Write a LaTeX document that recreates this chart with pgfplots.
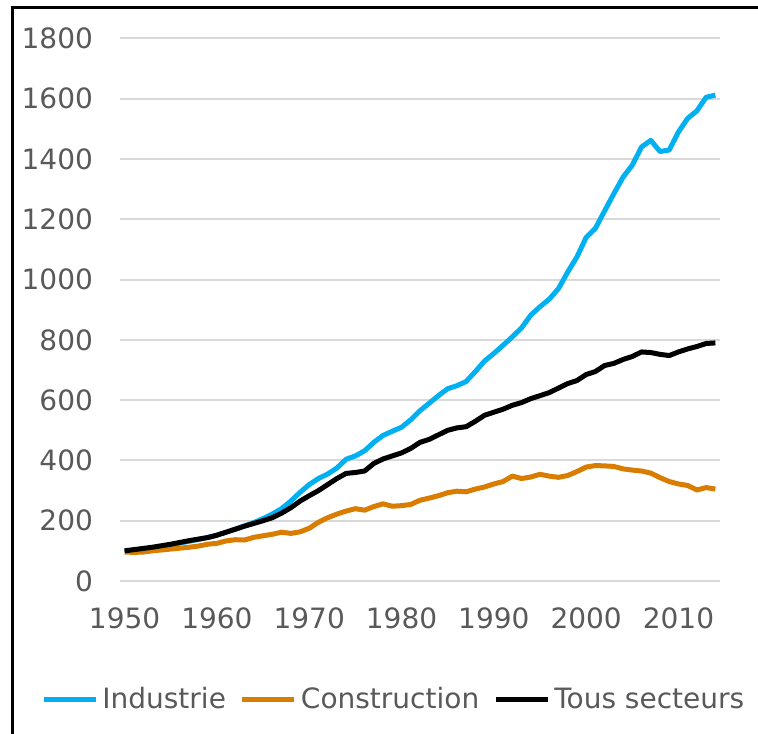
\documentclass[border=0pt]{standalone}
\usepackage{fontspec}
\setmainfont{DejaVu Sans}
\usepackage{pgfplots}
\pgfplotsset{compat=1.18}
\usepackage{pgfplotstable}
\definecolor{indblue}{RGB}{0,176,240}
\definecolor{constr}{RGB}{217,125,0}
\definecolor{txtgray}{RGB}{89,89,89}
\definecolor{gridgray}{RGB}{217,217,217}

\pgfplotstableread{
year ind cons tous
1950 100 96 100
1951 103 95 104
1952 106 96 108
1953 110 100 112
1954 115 103 117
1955 120 106 122
1956 126 109 128
1957 132 112 134
1958 138 116 139
1959 145 122 144
1960 152 125 152
1961 162 133 162
1962 172 137 172
1963 183 136 182
1964 194 145 191
1965 207 150 200
1966 222 155 210
1967 240 162 225
1968 265 158 243
1969 294 163 265
1970 320 175 283
1971 340 195 300
1972 355 210 320
1973 375 222 340
1974 404 232 357
1975 415 240 360
1976 432 235 365
1977 460 247 390
1978 483 256 405
1979 497 248 415
1980 510 250 425
1981 535 254 440
1982 565 268 460
1983 590 275 470
1984 615 283 485
1985 638 293 500
1986 648 298 508
1987 662 296 512
1988 695 305 530
1989 730 312 550
1990 755 322 560
1991 782 330 570
1992 810 348 583
1993 840 340 592
1994 882 345 605
1995 910 354 615
1996 935 348 625
1997 970 344 640
1998 1025 350 655
1999 1075 363 665
2000 1140 378 685
2001 1170 383 695
2002 1228 382 715
2003 1285 380 722
2004 1340 372 735
2005 1380 368 745
2006 1440 365 760
2007 1462 358 758
2008 1425 343 752
2009 1430 330 748
2010 1490 322 760
2011 1535 317 770
2012 1560 302 778
2013 1605 310 788
2014 1612 305 790
}\datatable

\begin{document}
\begin{tikzpicture}
\useasboundingbox (0,0) rectangle (379pt,366.5pt);
\draw[line width=1.5pt] (6pt,-2pt) -- (6pt,362.5pt) -- (381pt,362.5pt);
\begin{axis}[
  at={(60pt,76pt)}, anchor=south west,
  scale only axis, width=300pt, height=271.25pt,
  xmin=1949.5, xmax=2014.5,
  ymin=0, ymax=1800,
  xtick={1950,1960,...,2010},
  ytick={0,200,...,1800},
  xticklabel={\pgfmathprintnumber[set thousands separator={}]{\tick}},
  yticklabel={\pgfmathprintnumber[set thousands separator={}]{\tick}},
  /pgf/number format/assume math mode=true,
  ymajorgrids,
  grid style={gridgray, line width=1pt},
  major tick length=0pt,
  axis line style={draw=none},
  tick label style={font=\fontsize{14}{16}\selectfont, text=txtgray},
  xticklabel style={yshift=-10pt},
  yticklabel style={xshift=-10pt},
  legend style={at={(0.458,-0.219)}, anchor=center, draw=none, fill=none,
    font=\fontsize{14}{16}\selectfont, text=txtgray,
    legend columns=-1,
    /tikz/every even column/.append style={column sep=5pt},
    inner sep=0pt},
  legend image code/.code={\draw[#1, line width=2.5pt] (0pt,0pt) -- (26pt,0pt);},
  every axis plot/.append style={line width=2.5pt, line join=round},
]
\addplot[indblue, no markers] table[x=year, y=ind] {\datatable};
\addlegendentry{Industrie}
\addplot[constr, no markers] table[x=year, y=cons] {\datatable};
\addlegendentry{Construction}
\addplot[black, no markers] table[x=year, y=tous] {\datatable};
\addlegendentry{Tous secteurs}
\end{axis}
\end{tikzpicture}
\end{document}
